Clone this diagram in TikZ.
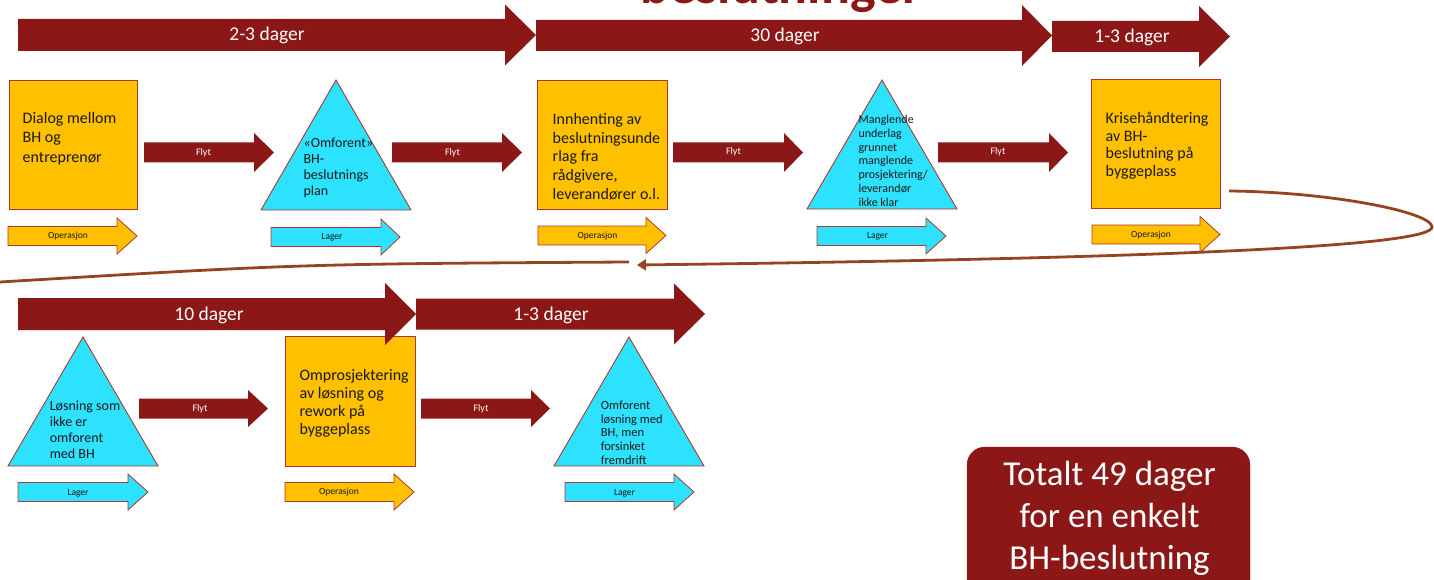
\documentclass[tikz,border=0pt]{standalone}
\usepackage{fontspec}
\setmainfont{Carlito}
\usetikzlibrary{arrows.meta}
\definecolor{dred}{RGB}{140,23,23}
\definecolor{gold}{RGB}{255,192,0}
\definecolor{aqua}{RGB}{45,226,255}
\definecolor{edge}{RGB}{175,55,45}
\definecolor{loopc}{RGB}{150,68,32}
\definecolor{ink}{RGB}{25,25,25}
% style, x-left, x-headbase, x-tip, y-centre, half body, half head
\newcommand\arrowshape[7]{%
  \path[#1] (#2,#5-#6) -- (#3,#5-#6) -- (#3,#5-#7) -- (#4,#5) -- (#3,#5+#7) -- (#3,#5+#6) -- (#2,#5+#6) -- cycle;}
\begin{document}
\begin{tikzpicture}[x=1pt,y=-1pt,
  bigarrow/.style={fill=dred},
  flyt/.style={fill=dred},
  oparrow/.style={fill=gold, draw=edge, line width=0.8pt},
  lagarrow/.style={fill=aqua, draw=edge, line width=0.8pt},
  opbox/.style={rectangle, fill=gold, draw=edge, line width=0.9pt, inner sep=0, anchor=north west},
  tri/.style={fill=aqua, draw=edge, line width=0.9pt, line join=miter},
  bigtxt/.style={text=white, anchor=base, inner sep=0, font=\fontsize{19.5}{22}\selectfont},
  flytxt/.style={text=white, inner sep=0, font=\fontsize{10}{11}\selectfont},
  smtxt/.style={text=ink, inner sep=0, font=\fontsize{9.5}{11}\selectfont},
  txt/.style={anchor=base west, align=left, inner sep=0, text=ink},
  loopline/.style={draw=loopc, line width=2.8pt}
]
\useasboundingbox (0,0) rectangle (1434,580);
\clip (0,0) rectangle (1434,580);

% title (cut at top, as in the reference)
\node[anchor=base west, inner sep=0, text=dred, font=\bfseries\fontsize{54}{60}\selectfont] (title) at (640,4) {beslutninger};

% operation boxes
\node[opbox, minimum width=128, minimum height=129] (b1) at (9,80) {};
\node[opbox, minimum width=130, minimum height=129] (b2) at (537,80) {};
\node[opbox, minimum width=129, minimum height=129] (b3) at (1091,79) {};
\node[opbox, minimum width=130, minimum height=130] (b4) at (285,336) {};

% storage triangles
\draw[tri] (261,210) -- (336,80) -- (411,210) -- cycle;
\draw[tri] (807,209) -- (882,80) -- (957,209) -- cycle;
\draw[tri] (8,466) -- (83,337) -- (158,466) -- cycle;
\draw[tri] (554,466) -- (629,337) -- (704,466) -- cycle;

% texts in boxes (anchor = baseline of the last line)
\node[txt, font=\fontsize{16}{19.3}\selectfont] (t1) at (22.5,162.1) {Dialog mellom\\BH og\\entreprenør};
\node[txt, font=\fontsize{16}{18.7}\selectfont] (t2) at (552.5,199.1) {Innhenting av\\beslutningsunde\\rlag fra\\rådgivere,\\leverandører o.l.};
\node[txt, font=\fontsize{16}{17.8}\selectfont] (t3) at (1105.5,176.7) {Krisehåndtering\\av BH-\\beslutning på\\byggeplass};
\node[txt, font=\fontsize{16}{18}\selectfont] (t4) at (299.4,434) {Omprosjektering\\av løsning og\\rework på\\byggeplass};

% texts in triangles
\node[txt, font=\fontsize{14}{16.2}\selectfont] (tt1) at (303.4,195.9) {«Omforent»\\BH-\\beslutnings\\plan};
\node[txt, font=\fontsize{12}{13.9}\selectfont] (tt2) at (858.3,206.7) {Manglende\\underlag\\grunnet\\manglende\\prosjektering/\\leverandør\\ikke klar};
\node[txt, font=\fontsize{14}{15.8}\selectfont] (tt3) at (49.6,458.1) {Løsning som\\ikke er\\omforent\\med BH};
\node[txt, font=\fontsize{12.5}{13.75}\selectfont] (tt4) at (600.6,464.3) {Omforent\\løsning med\\BH, men\\forsinket\\fremdrift};

% Flyt arrows
\arrowshape{flyt}{144}{254}{274}{152.5}{10}{19.5}
\arrowshape{flyt}{392}{502}{522}{152.5}{10}{19.5}
\arrowshape{flyt}{673}{784}{803}{152.5}{10}{19.5}
\arrowshape{flyt}{938}{1049}{1068}{152.5}{10}{19.5}
\arrowshape{flyt}{139}{248}{268}{408.5}{10}{18.5}
\arrowshape{flyt}{421}{531}{550}{408.5}{10}{18.5}
\node[flytxt] (f1) at (203.5,152.5) {Flyt};
\node[flytxt] (f2) at (452.5,152.5) {Flyt};
\node[flytxt] (f3) at (733.5,152) {Flyt};
\node[flytxt] (f4) at (998,152) {Flyt};
\node[flytxt] (f5) at (200,408.5) {Flyt};
\node[flytxt] (f6) at (481,408.5) {Flyt};

% Operasjon / Lager arrows
\arrowshape{oparrow}{8}{117}{137}{236}{9.5}{18}
\arrowshape{lagarrow}{271}{381}{400}{237}{9.5}{18}
\arrowshape{oparrow}{538}{646}{666}{235.5}{9.5}{18}
\arrowshape{lagarrow}{817}{926}{946}{236}{9.5}{18}
\arrowshape{oparrow}{1092}{1200}{1220}{234.5}{9.5}{18}
\arrowshape{lagarrow}{18}{128}{148}{492}{9.5}{18}
\arrowshape{oparrow}{285}{394}{414}{492}{9.5}{18}
\arrowshape{lagarrow}{565}{674}{694}{492}{9.5}{18}
\node[smtxt] (o1) at (68,236) {Operasjon};
\node[smtxt] (l1) at (332,237) {Lager};
\node[smtxt] (o2) at (597.5,236) {Operasjon};
\node[smtxt] (l2) at (877.5,236) {Lager};
\node[smtxt] (o3) at (1151,235) {Operasjon};
\node[smtxt] (l3) at (78,493) {Lager};
\node[smtxt] (o4) at (339,492) {Operasjon};
\node[smtxt] (l4) at (624.5,493) {Lager};

% big duration arrows
\arrowshape{bigarrow}{18}{505}{536}{35}{16}{30.5}
\arrowshape{bigarrow}{536}{1022}{1052}{35.5}{15.5}{30.5}
\arrowshape{bigarrow}{1052}{1199}{1230}{36.5}{15.5}{30.5}
\arrowshape{bigarrow}{18}{385}{416}{314}{16}{31}
\arrowshape{bigarrow}{416}{674}{705}{314}{15.5}{30.5}
\node[bigtxt] (d1) at (267,41) {2-3 dager};
\node[bigtxt] (d2) at (785,41.5) {30 dager};
\node[bigtxt] (d3) at (1132,43) {1-3 dager};
\node[bigtxt] (d4) at (209,320.5) {10 dager};
\node[bigtxt] (d5) at (551,320) {1-3 dager};

% total box
\draw[fill=dred, draw=dred, rounded corners=18pt] (967,447) rectangle (1250,598);
\node[anchor=base, align=center, inner sep=0, text=white, font=\fontsize{35}{42}\selectfont] (tot) at (1109.5,569) {Totalt 49 dager\\for en enkelt\\BH-beslutning};

% loop connector
\coordinate (ls) at (1229,191);
\coordinate (lt) at (637,265);
\coordinate (ms) at (629,262);
\coordinate (me) at (0,282);
\draw[loopline, -{Triangle[length=9pt,width=11pt]}] (ls) .. controls (1330,192) and (1432,212) .. (1432,227) .. controls (1432,245) and (1200,258) .. (lt);
\draw[loopline] (ms) .. controls (300,264) .. (me);
\end{tikzpicture}
\end{document}
